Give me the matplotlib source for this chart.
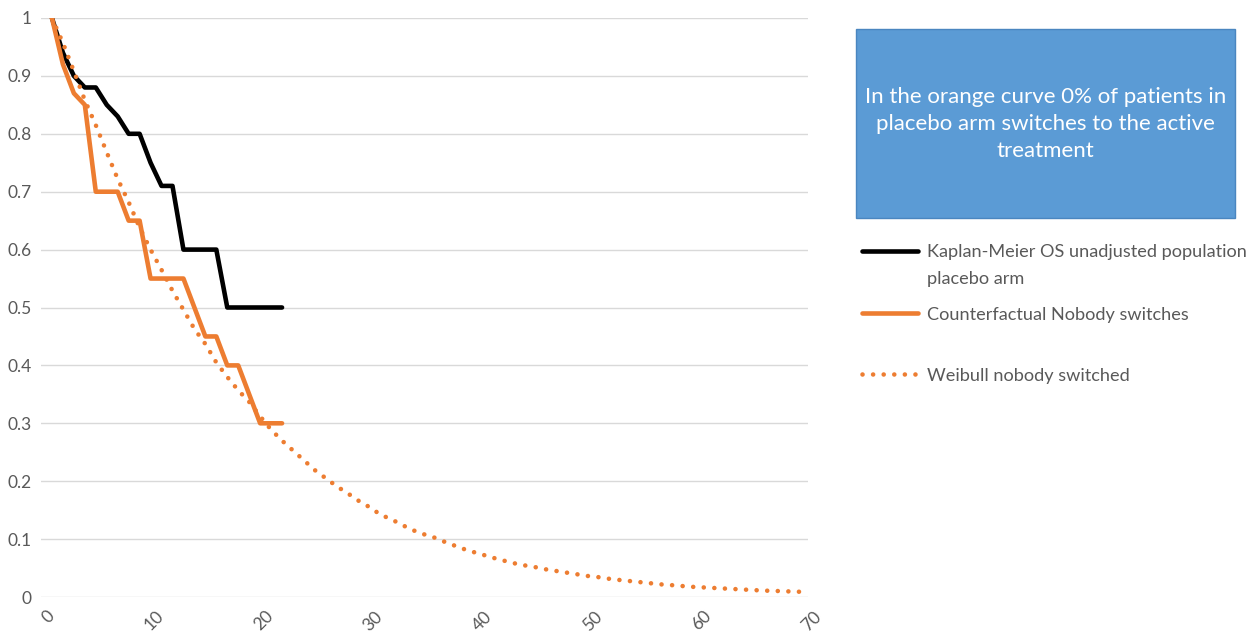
import matplotlib
matplotlib.use("Agg")
import matplotlib.pyplot as plt
from matplotlib.lines import Line2D
from matplotlib.patches import Rectangle
from matplotlib.ticker import FuncFormatter
from matplotlib.transforms import ScaledTranslation

# Survival data (time in months)
km_time = list(range(1, 23))
km_surv = [1.00, 0.94, 0.90, 0.88, 0.88, 0.85, 0.83, 0.80, 0.80, 0.75, 0.71,
           0.71, 0.60, 0.60, 0.60, 0.60, 0.50, 0.50, 0.50, 0.50, 0.50, 0.50]

cf_time = list(range(1, 23))
cf_surv = [1.00, 0.92, 0.87, 0.85, 0.70, 0.70, 0.70, 0.65, 0.65, 0.55, 0.55,
           0.55, 0.55, 0.50, 0.45, 0.45, 0.40, 0.40, 0.35, 0.30, 0.30, 0.30]

wb_time = list(range(1, 71))
wb_surv = [1.000, 0.957, 0.908, 0.858, 0.815, 0.768, 0.722, 0.682, 0.638, 0.600,
           0.565, 0.529, 0.496, 0.463, 0.437, 0.405, 0.380, 0.357, 0.337, 0.312,
           0.289, 0.270, 0.253, 0.236, 0.219, 0.205, 0.191, 0.179, 0.166, 0.155,
           0.142, 0.134, 0.124, 0.115, 0.108, 0.102, 0.094, 0.087, 0.080, 0.075,
           0.069, 0.064, 0.059, 0.055, 0.052, 0.048, 0.045, 0.042, 0.039, 0.036,
           0.034, 0.031, 0.029, 0.027, 0.025, 0.023, 0.021, 0.020, 0.018, 0.017,
           0.016, 0.015, 0.014, 0.013, 0.012, 0.011, 0.0105, 0.0098, 0.0092, 0.0086]

series_labels = ["Kaplan-Meier OS unadjusted population\nplacebo arm",
                 "Counterfactual Nobody switches",
                 "Weibull nobody switched"]
note_text = ("In the orange curve 0% of patients in\n"
             "placebo arm switches to the active\n"
             "treatment")

x_ticks = [0, 10, 20, 30, 40, 50, 60, 70]
y_ticks = [0, 0.1, 0.2, 0.3, 0.4, 0.5, 0.6, 0.7, 0.8, 0.9, 1.0]

BLACK = "#000000"
ORANGE = "#ED7D31"
GRID = "#D9D9D9"
TEXT = "#595959"
BOX = "#5B9BD5"

plt.rcParams["font.family"] = ["Lato", "DejaVu Sans"]

W, H = 1254, 636
fig = plt.figure(figsize=(W / 100, H / 100), dpi=100)
ax = fig.add_axes([41 / W, 1 - 597 / H, (808 - 41) / W, (597 - 18) / H])

LW = 3.3
ax.plot(km_time, km_surv, color=BLACK, lw=LW, solid_capstyle="round",
        solid_joinstyle="round", zorder=3)
ax.plot(cf_time, cf_surv, color=ORANGE, lw=LW, solid_capstyle="round",
        solid_joinstyle="round", zorder=4)
wb_line, = ax.plot(wb_time, wb_surv, color=ORANGE, lw=LW, zorder=5,
                   dash_capstyle="round")
wb_line.set_dashes((0.01, 2.3))

ax.set_xlim(0, 70)
ax.set_ylim(0, 1)
ax.set_xticks(x_ticks)
ax.set_yticks(y_ticks)
ax.yaxis.set_major_formatter(FuncFormatter(lambda v, p: f"{v:g}"))
ax.grid(axis="y", color=GRID, lw=1.0)
ax.set_axisbelow(True)
for s in ax.spines.values():
    s.set_visible(False)
ax.tick_params(axis="both", length=0, labelsize=12.5, labelcolor=TEXT)
ax.tick_params(axis="y", pad=7)
ax.tick_params(axis="x", pad=8)
shift = ScaledTranslation(5 / 100, 0, fig.dpi_scale_trans)
for lab in ax.get_xticklabels():
    lab.set_rotation(45)
    lab.set_ha("right")
    lab.set_va("top")
    lab.set_rotation_mode("anchor")
    lab.set_transform(lab.get_transform() + shift)

# Explanatory note box
def px(x, y):
    return x / W, 1 - y / H

bx0, by0 = px(856, 218)
bx1, by1 = px(1235, 29)
fig.patches.append(Rectangle((bx0, by0), bx1 - bx0, by1 - by0,
                             transform=fig.transFigure, facecolor=BOX,
                             edgecolor="#4A86C0", lw=1.0))
cx, cy = px((856 + 1235) / 2, 124)
fig.text(cx, cy, note_text, color="white", fontsize=16, ha="center",
         va="center", linespacing=1.42, transform=fig.transFigure)

# Legend
leg_y = [251, 313, 374]
styles = [dict(color=BLACK), dict(color=ORANGE), dict(color=ORANGE)]
LEG_FS = 13.1
for i, (yy, lab) in enumerate(zip(leg_y, series_labels)):
    x0, y0 = px(862, yy)
    x1, _ = px(918, yy)
    ln = Line2D([x0, x1], [y0, y0], transform=fig.transFigure, lw=LW,
                solid_capstyle="round", dash_capstyle="round", **styles[i])
    if i == 2:
        ln.set_dashes((0.01, 2.3))
    fig.lines.append(ln)
    lines = lab.split("\n")
    for j, part in enumerate(lines):
        tx, ty = px(927, yy + 26 * j)
        fig.text(tx, ty, part, color=TEXT, fontsize=LEG_FS,
                 ha="left", va="center_baseline", transform=fig.transFigure)

fig.savefig("out.png", dpi=100)
